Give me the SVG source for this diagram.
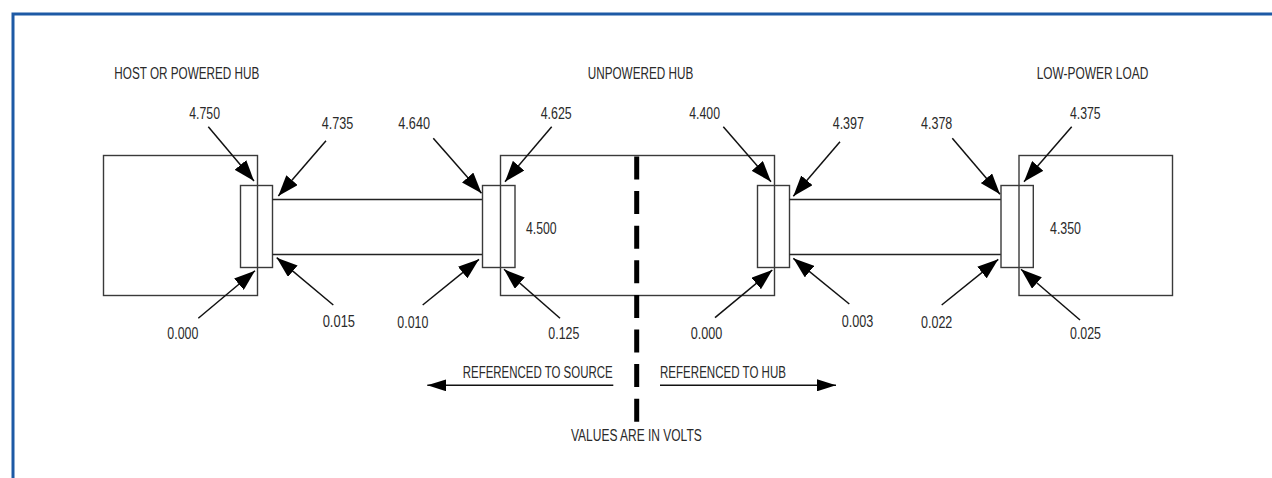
<svg xmlns="http://www.w3.org/2000/svg" width="1272" height="478" viewBox="0 0 1272 478">
<style>
.box{fill:none;stroke:#3a3a3a;stroke-width:1.4}
.cable{stroke:#222;stroke-width:1.4;fill:none}
.arr{stroke:#111;stroke-width:1.5;fill:none;marker-end:url(#ah)}
.harr{stroke:#111;stroke-width:1.5;fill:none;marker-end:url(#hh)}
text{font-family:"Liberation Sans Narrow","Liberation Sans",Arial,sans-serif;font-size:16px;fill:#2a2a2a}
</style>
<defs>
<marker id="ah" markerUnits="userSpaceOnUse" viewBox="0 0 21 15" markerWidth="21" markerHeight="15" refX="21" refY="7.5" orient="auto"><path d="M0,0 L21,7.5 L0,15 Z" fill="#000"/></marker>
<marker id="hh" markerUnits="userSpaceOnUse" viewBox="0 0 19 12" markerWidth="19" markerHeight="12" refX="19" refY="6" orient="auto"><path d="M0,0 L19,6 L0,12 Z" fill="#000"/></marker>
</defs>
<rect width="1272" height="478" fill="#fff"/>
<path d="M13,478 V14 H1272" fill="none" stroke="#1d5aa5" stroke-width="3"/>

<g id="host">
<rect class="box" x="103.5" y="155.5" width="154" height="140"/>
<rect class="box" x="240.5" y="185.5" width="32" height="82"/>
<text x="114.3" y="78.5" textLength="145" lengthAdjust="spacingAndGlyphs">HOST OR POWERED HUB</text>
</g>
<g id="cable1">
<line class="cable" x1="272.5" y1="199.5" x2="482.5" y2="199.5"/>
<line class="cable" x1="272.5" y1="254.5" x2="482.5" y2="254.5"/>
</g>
<g id="hub">
<rect class="box" x="500.5" y="155.5" width="274" height="140"/>
<rect class="box" x="482.5" y="185.5" width="32.5" height="82"/>
<rect class="box" x="757.5" y="185.5" width="32" height="82"/>
<text x="587.7" y="78.5" textLength="105.6" lengthAdjust="spacingAndGlyphs">UNPOWERED HUB</text>
<text x="526" y="233.5" textLength="30.7" lengthAdjust="spacingAndGlyphs">4.500</text>
</g>
<g id="cable2">
<line class="cable" x1="789.5" y1="199.5" x2="1001" y2="199.5"/>
<line class="cable" x1="789.5" y1="254.5" x2="1001" y2="254.5"/>
</g>
<g id="load">
<rect class="box" x="1019" y="155.5" width="153.5" height="140"/>
<rect class="box" x="1001" y="185.5" width="32.3" height="82"/>
<text x="1036.7" y="78.5" textLength="111.6" lengthAdjust="spacingAndGlyphs">LOW-POWER LOAD</text>
<text x="1050" y="233.5" textLength="31" lengthAdjust="spacingAndGlyphs">4.350</text>
</g>

<g id="divider">
<line x1="636.7" y1="156.5" x2="636.7" y2="422" stroke="#000" stroke-width="5" stroke-dasharray="23 11.6"/>
</g>

<g id="labels">
<text x="189.3" y="119" textLength="30.7" lengthAdjust="spacingAndGlyphs">4.750</text>
<text x="321.7" y="129" textLength="31.6" lengthAdjust="spacingAndGlyphs">4.735</text>
<text x="398.3" y="129" textLength="31.7" lengthAdjust="spacingAndGlyphs">4.640</text>
<text x="540.7" y="119" textLength="31" lengthAdjust="spacingAndGlyphs">4.625</text>
<text x="689.3" y="119" textLength="30.7" lengthAdjust="spacingAndGlyphs">4.400</text>
<text x="832.7" y="128.5" textLength="31.3" lengthAdjust="spacingAndGlyphs">4.397</text>
<text x="921" y="128.5" textLength="31.3" lengthAdjust="spacingAndGlyphs">4.378</text>
<text x="1070" y="119" textLength="30.7" lengthAdjust="spacingAndGlyphs">4.375</text>
<text x="167.3" y="339" textLength="31" lengthAdjust="spacingAndGlyphs">0.000</text>
<text x="322.7" y="327" textLength="32.3" lengthAdjust="spacingAndGlyphs">0.015</text>
<text x="397.3" y="327.5" textLength="31" lengthAdjust="spacingAndGlyphs">0.010</text>
<text x="548.3" y="338.5" textLength="31" lengthAdjust="spacingAndGlyphs">0.125</text>
<text x="690.7" y="339" textLength="31.6" lengthAdjust="spacingAndGlyphs">0.000</text>
<text x="841.7" y="327" textLength="31.6" lengthAdjust="spacingAndGlyphs">0.003</text>
<text x="921" y="328" textLength="31.3" lengthAdjust="spacingAndGlyphs">0.022</text>
<text x="1070" y="339" textLength="31" lengthAdjust="spacingAndGlyphs">0.025</text>
<text x="462.7" y="378.3" textLength="150" lengthAdjust="spacingAndGlyphs">REFERENCED TO SOURCE</text>
<text x="660" y="378.3" textLength="126" lengthAdjust="spacingAndGlyphs">REFERENCED TO HUB</text>
<text x="571" y="440.7" textLength="130.7" lengthAdjust="spacingAndGlyphs">VALUES ARE IN VOLTS</text>
</g>

<g id="connectors">
<line class="arr" x1="208.3" y1="126.7" x2="254" y2="181"/>
<line class="arr" x1="326" y1="140.7" x2="278.3" y2="196"/>
<line class="arr" x1="198.3" y1="318.3" x2="255" y2="270.7"/>
<line class="arr" x1="333.3" y1="305" x2="276.7" y2="257.7"/>
<line class="arr" x1="433.3" y1="138.3" x2="481.5" y2="193.3"/>
<line class="arr" x1="422.7" y1="305" x2="479" y2="259.3"/>
<line class="arr" x1="551.7" y1="126.7" x2="505" y2="181.7"/>
<line class="arr" x1="560" y1="318.3" x2="504" y2="269.3"/>
<line class="arr" x1="723.3" y1="126.7" x2="771" y2="181.7"/>
<line class="arr" x1="715" y1="317.7" x2="772.3" y2="270"/>
<line class="arr" x1="840" y1="141.7" x2="793.3" y2="196.3"/>
<line class="arr" x1="849.3" y1="304" x2="793.3" y2="258.3"/>
<line class="arr" x1="952.3" y1="138.3" x2="1000" y2="194.3"/>
<line class="arr" x1="941.7" y1="305" x2="998.3" y2="259.3"/>
<line class="arr" x1="1071.7" y1="126.7" x2="1024" y2="181.7"/>
<line class="arr" x1="1080" y1="320" x2="1021" y2="269.3"/>
<line class="harr" x1="613.3" y1="385.3" x2="427.3" y2="385.3"/>
<line class="harr" x1="660" y1="385.3" x2="836" y2="385.3"/>
</g>
</svg>
